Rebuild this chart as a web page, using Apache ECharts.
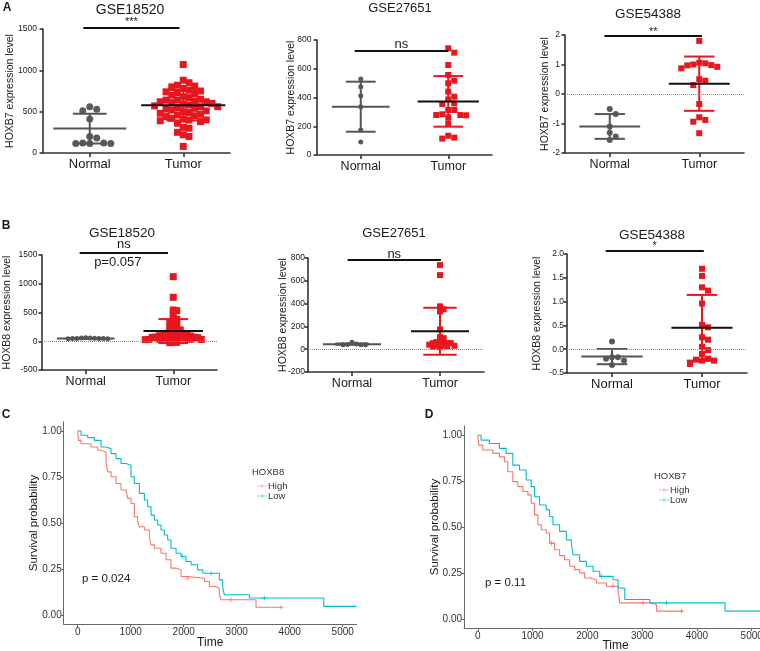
<!DOCTYPE html>
<html>
<head>
<meta charset="utf-8">
<script src="https://cdn.jsdelivr.net/npm/echarts@6/dist/echarts.min.js"></script>
<style>
  html, body { margin: 0; padding: 0; background: #fff; }
  #chart { width: 760px; height: 651px; }
</style>
</head>
<body>
<div id="chart"></div>
<script>
const FONT = 'Liberation Sans, Arial, sans-serif';
const groups = ['Normal', 'Tumor'];

// A: HOXB7 expression
const a1Ticks = [0, 500, 1000, 1500];
const a1Normal = [560, 530, 510, 410, 200, 180, 120, 115, 115, 115, 120];
const a1Tumor = [1070, 880, 850, 820, 800, 810, 780, 760, 750, 740, 730, 720, 700,
  680, 670, 650, 640, 640, 630, 620, 620, 610, 600, 590, 580, 570, 560, 560, 550, 540, 530, 520,
  510, 500, 490, 480, 470, 460, 450, 440, 420, 410, 400, 400, 390, 380, 360, 310, 300, 250, 220, 200, 80];
const a1Mean = [295, 577];
const a1Sd = [180, 185];

const a2Ticks = [0, 200, 400, 600, 800];
const a2Normal = [529, 475, 413, 336, 174, 90];
const a2Tumor = [742, 712, 626, 557, 517, 499, 441, 406, 387, 359, 355, 313, 313, 283, 278, 262, 276, 278, 220, 134, 114, 121];
const a2Mean = [336, 373];
const a2Sd = [174, 176];

const a3Ticks = [-2, -1, 0, 1, 2];
const a3Normal = [-0.51, -0.68, -1.10, -1.31, -1.44, -1.56];
const a3Tumor = [1.80, 1.06, 1.00, 0.97, 0.87, 0.92, 0.98, 1.04, 0.45, 0.50, 0.30, -0.34, -0.88, -0.94, -0.79, -1.33];
const a3Mean = [-1.10, 0.35];
const a3Sd = [0.42, 0.92];

// B: HOXB8 expression
const b1Ticks = [-500, 0, 500, 1000, 1500];
const b1Normal = [50, 45, 55, 48, 52, 60, 50, 47, 55, 45];
const b1Tumor = [1123, 764, 544, 533, 475, 388, 382, 340, 320, 284, 266, 243, 220, 208, 197, 180, 168, 150,
  125, 120, 115, 110, 110, 105, 100, 100, 95, 90,
  75, 72, 70, 70, 68, 65, 62, 60, 58, 55,
  40, 38, 35, 35, 32, 30, 28, 25, -15, -20, -25];
const b1Mean = [50, 177];
const b1Sd = [5, 208];

const b2Ticks = [-200, 0, 200, 400, 600, 800];
const b2Normal = [45, 40, 38, 40, 42, 60];
const b2Tumor = [738, 650, 376, 350, 332, 173, 106, 97, 76, 62, 62, 53, 53, 53, 47, 40, 35, 32, 30, 26, 22, 18];
const b2Mean = [44, 158];
const b2Sd = [6, 206];

const b3Ticks = [-0.5, 0, 0.5, 1, 1.5, 2];
const b3Normal = [0.16, -0.20, -0.17, -0.24, -0.17, -0.33];
const b3Tumor = [1.69, 1.54, 1.30, 1.23, 0.96, 0.51, 0.46, 0.25, 0.2, 0.05, -0.02, -0.10, -0.20, -0.22, -0.24, -0.24, -0.31];
const b3Mean = [-0.155, 0.45];
const b3Sd = [0.16, 0.69];

const sigLabels = ['***', 'ns', '**', 'ns', 'ns', '*'];

// C / D: survival curves (time, survival probability)
const cHighTime = [0, 13, 63, 252, 377, 440, 535, 566, 629, 723, 818, 912, 944, 1006, 1069, 1132, 1164, 1258, 1352, 1384, 1447, 1573, 1667, 1761, 1856, 1950, 2076, 2390, 2485, 2610, 2673, 2705, 3365, 3868];
const cHighSurv = [1.0, 0.949, 0.931, 0.913, 0.895, 0.886, 0.832, 0.778, 0.751, 0.715, 0.679, 0.670, 0.634, 0.606, 0.534, 0.507, 0.480, 0.462, 0.426, 0.381, 0.363, 0.336, 0.300, 0.255, 0.245, 0.209, 0.200, 0.182, 0.155, 0.146, 0.110, 0.083, 0.042, 0.042];
const cLowTime = [0, 63, 189, 315, 440, 535, 629, 723, 818, 912, 1006, 1069, 1164, 1258, 1321, 1384, 1447, 1510, 1573, 1635, 1698, 1761, 1856, 1950, 2044, 2139, 2264, 2359, 2673, 2736, 2768, 3239, 4642, 5264];
const cLowSurv = [1.0, 0.977, 0.964, 0.949, 0.913, 0.904, 0.877, 0.850, 0.823, 0.814, 0.751, 0.715, 0.661, 0.625, 0.588, 0.543, 0.516, 0.489, 0.462, 0.435, 0.408, 0.363, 0.336, 0.318, 0.291, 0.273, 0.245, 0.227, 0.191, 0.146, 0.110, 0.092, 0.047, 0.047];
const cHighCensor = [2076, 2893, 3836];
const cLowCensor = [1981, 2516, 3522];

const dHighTime = [0, 18, 91, 274, 396, 488, 549, 640, 732, 823, 915, 976, 1037, 1098, 1159, 1250, 1311, 1403, 1494, 1585, 1677, 1768, 1860, 1951, 2043, 2165, 2348, 2561, 2592, 3140, 3262, 3750];
const dHighSurv = [1.0, 0.946, 0.919, 0.901, 0.882, 0.855, 0.801, 0.747, 0.720, 0.693, 0.675, 0.629, 0.566, 0.512, 0.485, 0.467, 0.412, 0.376, 0.344, 0.322, 0.286, 0.268, 0.250, 0.222, 0.213, 0.195, 0.177, 0.150, 0.087, 0.078, 0.042, 0.042];
const dLowTime = [0, 61, 213, 396, 518, 640, 762, 884, 976, 1037, 1128, 1250, 1311, 1372, 1494, 1616, 1707, 1738, 1860, 1982, 2104, 2226, 2470, 2561, 2683, 3140, 4513, 5279];
const dLowSurv = [1.0, 0.973, 0.955, 0.928, 0.901, 0.837, 0.810, 0.756, 0.720, 0.665, 0.620, 0.593, 0.557, 0.512, 0.476, 0.430, 0.412, 0.349, 0.313, 0.286, 0.259, 0.231, 0.213, 0.168, 0.105, 0.087, 0.042, 0.042];
const dHighCensor = [1342, 2470, 3018, 3720];
const dLowCensor = [2256, 3445];

const timeTicks = [0, 1000, 2000, 3000, 4000, 5000];
const survTicks = [0, 0.25, 0.5, 0.75, 1];

const dotPanels = [
  { gene: 'HOXB7', title: 'GSE18520', ticks: a1Ticks, dec: 0, normal: a1Normal, tumor: a1Tumor, mean: a1Mean, sd: a1Sd, sig: sigLabels[0] },
  { gene: 'HOXB7', title: 'GSE27651', ticks: a2Ticks, dec: 0, normal: a2Normal, tumor: a2Tumor, mean: a2Mean, sd: a2Sd, sig: sigLabels[1] },
  { gene: 'HOXB7', title: 'GSE54388', ticks: a3Ticks, dec: 0, normal: a3Normal, tumor: a3Tumor, mean: a3Mean, sd: a3Sd, sig: sigLabels[2] },
  { gene: 'HOXB8', title: 'GSE18520', ticks: b1Ticks, dec: 0, normal: b1Normal, tumor: b1Tumor, mean: b1Mean, sd: b1Sd, sig: sigLabels[3], note: 'p=0.057' },
  { gene: 'HOXB8', title: 'GSE27651', ticks: b2Ticks, dec: 0, normal: b2Normal, tumor: b2Tumor, mean: b2Mean, sd: b2Sd, sig: sigLabels[4] },
  { gene: 'HOXB8', title: 'GSE54388', ticks: b3Ticks, dec: 1, normal: b3Normal, tumor: b3Tumor, mean: b3Mean, sd: b3Sd, sig: sigLabels[5] }
];

// layout only (swN / swT: horizontal spacing and vertical overlap factors of the swarm)
const boxes = [
  { left: 43, top: 29, width: 187, height: 124, dot: 7, sq: 7, swN: [1.0, 1.0], swT: [0.82, 1.0], half: [0.39, 0.45], cap: 0.18, nameGap: 27, ym: 6, cat: 13, tx: 130, ty: 10, tf: 14, bar: [0.43, 1.46], barPx: 1, sigOff: -6, sigFont: 11 },
  { left: 317, top: 40, width: 175, height: 115, dot: 5, sq: 6, swN: [1.0, 1.0], swT: [1.0, 1.0], half: [0.33, 0.35], cap: 0.17, nameGap: 20, ym: 5.5, cat: 12.5, tx: 400, ty: 8, tf: 13, bar: [0.43, 1.50], barPx: -11, sigOff: -7, sigFont: 13 },
  { left: 565, top: 35, width: 179, height: 118, dot: 6, sq: 6, swN: [1.0, 1.0], swT: [1.0, 1.0], half: [0.34, 0.34], cap: 0.17, nameGap: 14, ym: 5, cat: 12.5, tx: 648, ty: 14, tf: 13.5, bar: [0.44, 1.53], barPx: -1, sigOff: -4, sigFont: 11 },
  { left: 42, top: 255, width: 175, height: 115, dot: 5, sq: 7, swN: [0.88, 1.0], swT: [0.5, 0.4], half: [0.33, 0.34], cap: 0.17, nameGap: 29, ym: 4.5, cat: 12.5, tx: 122, ty: 233, tf: 13.5, bar: [0.43, 1.44], barPx: 2, sigOff: -9, sigFont: 13 },
  { left: 308, top: 258, width: 176, height: 114, dot: 5, sq: 6, swN: [0.9, 1.0], swT: [0.6, 0.5], half: [0.33, 0.33], cap: 0.19, nameGap: 19, ym: 3, cat: 12.5, tx: 394, ty: 233, tf: 13, bar: [0.45, 1.51], barPx: -2, sigOff: -6, sigFont: 13 },
  { left: 567, top: 254, width: 180, height: 119, dot: 6, sq: 6, swN: [1.0, 1.0], swT: [1.0, 1.0], half: [0.34, 0.34], cap: 0.17, nameGap: 24, ym: 3, cat: 13, tx: 652, ty: 235, tf: 13.5, bar: [0.43, 1.52], barPx: 3, sigOff: -5, sigFont: 11 }
];

const grid = [], xAxis = [], yAxis = [], series = [], graphic = [];

function label(text, x, y, size, opts) {
  graphic.push({
    type: 'text', x: x, y: y, silent: true,
    style: Object.assign({
      text: text, fontSize: size, fontFamily: FONT, fill: '#1a1a1a',
      align: 'center', verticalAlign: 'middle', textAlign: 'center', textVerticalAlign: 'middle'
    }, opts || {})
  });
}

// simple beeswarm: spread points sideways when they would overlap
function swarm(vals, center, pxX, pxY, size, f) {
  const order = vals.map((v, k) => k).sort((a, b) => vals[b] - vals[a]);
  const placed = [];
  const out = [];
  order.forEach(k => {
    const py = vals[k] * pxY;
    let slot = 0;
    for (let s = 0; s < 120; s++) {
      const cand = s === 0 ? 0 : (s % 2 ? 1 : -1) * Math.ceil(s / 2) * 0.5;
      if (!placed.some(q => Math.abs(q.py - py) < size * f[1] && Math.abs(q.slot - cand) < 1)) { slot = cand; break; }
    }
    placed.push({ py: py, slot: slot });
    out[k] = [center + slot * size * f[0] / pxX, vals[k]];
  });
  return out;
}

function seg(a, b, color, w) {
  return { type: 'line', shape: { x1: a[0], y1: a[1], x2: b[0], y2: b[1] }, style: { stroke: color, lineWidth: w } };
}

dotPanels.forEach((p, i) => {
  const b = boxes[i];
  const min = p.ticks[0], max = p.ticks[p.ticks.length - 1];
  const pxY = b.height / (max - min), pxX = b.width / 2;
  const vx = 2 * i + 1;

  grid.push({ left: b.left, top: b.top, width: b.width, height: b.height, containLabel: false, outerBoundsMode: 'none' });
  xAxis.push({
    type: 'category', gridIndex: i, data: groups,
    axisLine: { show: true, onZero: false, lineStyle: { color: '#333', width: 1.6 } },
    axisTick: { show: true, alignWithLabel: true, length: 4, lineStyle: { color: '#333', width: 1.6 } },
    axisLabel: { fontSize: b.cat, color: '#1a1a1a', margin: 5, fontFamily: FONT },
    splitLine: { show: false }
  });
  xAxis.push({ type: 'value', gridIndex: i, min: 0, max: 2, show: false });
  yAxis.push({
    type: 'value', gridIndex: i, min: min, max: max, interval: p.ticks[1] - p.ticks[0],
    name: p.gene + ' expression level', nameLocation: 'middle', nameGap: b.nameGap, nameMoveOverlap: false,
    nameTextStyle: { fontSize: 10.5, color: '#1a1a1a', fontFamily: FONT },
    axisLine: { show: true, onZero: false, lineStyle: { color: '#333', width: 1.6 } },
    axisTick: { show: true, length: 3.5, lineStyle: { color: '#333', width: 1.6 } },
    axisLabel: { fontSize: 8.5, color: '#1a1a1a', margin: b.ym, fontFamily: FONT, formatter: v => v.toFixed(p.dec) },
    splitLine: { show: false }
  });

  series.push({
    type: 'scatter', xAxisIndex: vx, yAxisIndex: i, symbol: 'circle', symbolSize: b.dot,
    itemStyle: { color: '#5a5a5a', opacity: 1 }, silent: true, z: 2,
    data: swarm(p.normal, 0.5, pxX, pxY, b.dot, b.swN),
    markLine: min < 0 ? {
      silent: true, symbol: 'none', label: { show: false },
      lineStyle: { type: 'dotted', color: '#8a8a8a', width: 1 }, data: [{ yAxis: 0 }]
    } : undefined
  });
  series.push({
    type: 'scatter', xAxisIndex: vx, yAxisIndex: i, symbol: 'rect', symbolSize: b.sq,
    itemStyle: { color: '#e8161e', opacity: 1 }, silent: true, z: 2,
    data: swarm(p.tumor, 1.5, pxX, pxY, b.sq, b.swT)
  });

  // mean and SD
  series.push({
    type: 'custom', xAxisIndex: vx, yAxisIndex: i, silent: true, z: 3, clip: false,
    data: [[1, p.mean[0]]],
    renderItem: (params, api) => {
      const children = [];
      [0, 1].forEach(g => {
        const cx = g + 0.5, m = p.mean[g], s = p.sd[g];
        const col = g === 0 ? '#555' : '#e8161e';
        const mcol = g === 0 ? '#555' : '#111';
        children.push(seg(api.coord([cx, m + s]), api.coord([cx, m - s]), col, 2));
        children.push(seg(api.coord([cx - b.cap, m + s]), api.coord([cx + b.cap, m + s]), col, 2));
        children.push(seg(api.coord([cx - b.cap, m - s]), api.coord([cx + b.cap, m - s]), col, 2));
        children.push(seg(api.coord([cx - b.half[g], m]), api.coord([cx + b.half[g], m]), mcol, 2));
      });
      return { type: 'group', children: children };
    }
  });

  // significance bar
  series.push({
    type: 'custom', xAxisIndex: vx, yAxisIndex: i, silent: true, z: 3, clip: false,
    data: [[1, max]],
    renderItem: (params, api) => {
      const l = api.coord([b.bar[0], max]), r = api.coord([b.bar[1], max]);
      const y = l[1] - b.barPx;
      const children = [seg([l[0], y], [r[0], y], '#111', 2)];
      const mid = (l[0] + r[0]) / 2;
      children.push({ type: 'text', x: mid, y: y + b.sigOff, style: { text: p.sig, fontSize: b.sigFont, fontFamily: FONT, fill: '#1a1a1a', align: 'center', verticalAlign: 'middle', textAlign: 'center', textVerticalAlign: 'middle' } });
      if (p.note) {
        children.push({ type: 'text', x: mid - 6, y: y + 9, style: { text: p.note, fontSize: 13, fontFamily: FONT, fill: '#1a1a1a', align: 'center', verticalAlign: 'middle', textAlign: 'center', textVerticalAlign: 'middle' } });
      }
      return { type: 'group', children: children };
    }
  });

  label(p.title, b.tx, b.ty, b.tf);
});

// survival panels
function survAt(times, surv, t) {
  let s = surv[0];
  for (let k = 0; k < times.length; k++) if (times[k] <= t) s = surv[k];
  return s;
}

const kmPanels = [
  { gene: 'HOXB8', p: 'p = 0.024', high: [cHighTime, cHighSurv, cHighCensor], low: [cLowTime, cLowSurv, cLowCensor] },
  { gene: 'HOXB7', p: 'p = 0.11', high: [dHighTime, dHighSurv, dHighCensor], low: [dLowTime, dLowSurv, dLowCensor] }
];
const kmBoxes = [
  { left: 63.7, top: 421.8, width: 293, height: 202.4, min: -264, max: 5264, nameGap: 23.5, legX: 252, legY: 476, legTitleY: 472, pX: 82, pY: 579 },
  { left: 464, top: 426, width: 303, height: 202, min: -251, max: 5279, nameGap: 23.5, legX: 654, legY: 480, legTitleY: 476, pX: 485, pY: 583 }
];
const KM_RED = '#F8766D', KM_BLUE = '#00BFC4';
const plusIcon = 'path://M0,4.3h10v1.4h-10z M4.3,0h1.4v10h-1.4z';
const legendIcon = 'path://M0,4.4h20v1.2h-20z M9.4,1.5h1.2v7h-1.2z';
const legends = [];

kmPanels.forEach((k, j) => {
  const b = kmBoxes[j];
  const gi = 6 + j;
  grid.push({ left: b.left, top: b.top, width: b.width, height: b.height, containLabel: false, outerBoundsMode: 'none' });
  xAxis.push({
    type: 'value', gridIndex: gi, min: b.min, max: b.max,
    name: 'Time', nameLocation: 'middle', nameGap: 12, nameMoveOverlap: false,
    nameTextStyle: { fontSize: 12, color: '#1a1a1a', fontFamily: FONT },
    axisLine: { show: true, onZero: false, lineStyle: { color: '#666', width: 1 } },
    axisTick: { show: true, length: 3, customValues: timeTicks, lineStyle: { color: '#666', width: 1 } },
    axisLabel: { fontSize: 10, color: '#333', margin: 3, fontFamily: FONT, customValues: timeTicks, formatter: v => String(v) },
    splitLine: { show: false }
  });
  yAxis.push({
    type: 'value', gridIndex: gi, min: -0.05, max: 1.05,
    name: 'Survival probability', nameLocation: 'middle', nameGap: b.nameGap, nameMoveOverlap: false,
    nameTextStyle: { fontSize: 11.5, color: '#1a1a1a', fontFamily: FONT },
    axisLine: { show: true, onZero: false, lineStyle: { color: '#666', width: 1 } },
    axisTick: { show: true, length: 2.5, customValues: survTicks, lineStyle: { color: '#666', width: 1 } },
    axisLabel: { fontSize: 10, color: '#333', margin: 2, fontFamily: FONT, customValues: survTicks, formatter: v => v.toFixed(2) },
    splitLine: { show: false }
  });
  [['High', k.high, KM_RED], ['Low', k.low, KM_BLUE]].forEach(([name, d, color]) => {
    series.push({
      type: 'line', name: name, xAxisIndex: 12 + j, yAxisIndex: gi, step: 'end',
      showSymbol: false, silent: true, lineStyle: { color: color, width: 1.1 }, itemStyle: { color: color },
      data: d[0].map((t, n) => [t, d[1][n]])
    });
    series.push({
      type: 'scatter', xAxisIndex: 12 + j, yAxisIndex: gi, symbol: plusIcon, symbolSize: 5,
      silent: true, itemStyle: { color: color, opacity: 1 },
      data: d[2].map(t => [t, survAt(d[0], d[1], t)])
    });
  });
  legends.push({
    orient: 'vertical', left: b.legX, top: b.legY, itemGap: 0, itemWidth: 10, itemHeight: 8,
    icon: legendIcon, selectedMode: false, data: ['High', 'Low'],
    textStyle: { fontSize: 9.5, color: '#333', fontFamily: FONT, lineHeight: 9, padding: [0, 0, 0, -4] }
  });
  label(k.gene, b.legX, b.legTitleY, 9.5, { align: 'left', textAlign: 'left', fill: '#333' });
  label(k.p, b.pX, b.pY, 11.5, { align: 'left', textAlign: 'left' });
});

label('A', 7, 8, 12, { fontWeight: 'bold' });
label('B', 6, 226, 12, { fontWeight: 'bold' });
label('C', 6, 415, 12, { fontWeight: 'bold' });
label('D', 429, 415, 12, { fontWeight: 'bold' });

const chart = echarts.init(document.getElementById('chart'));
chart.setOption({
  animation: false,
  backgroundColor: '#fff',
  textStyle: { fontFamily: FONT },
  grid: grid,
  xAxis: xAxis,
  yAxis: yAxis,
  legend: legends,
  series: series,
  graphic: graphic
});
</script>
</body>
</html>
